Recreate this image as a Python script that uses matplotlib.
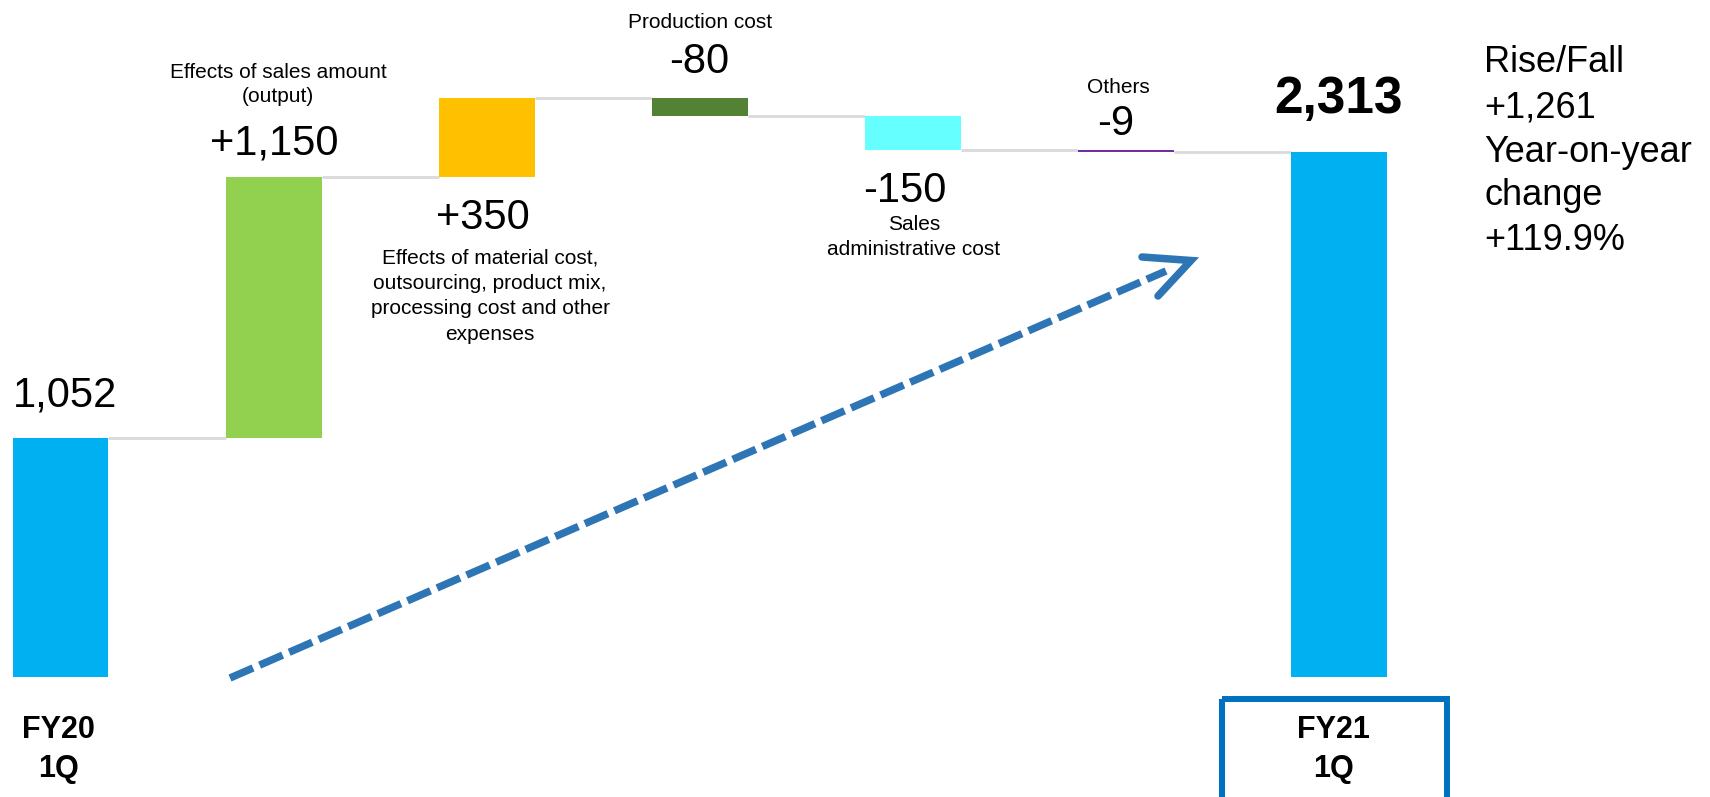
import matplotlib
matplotlib.use("Agg")
import matplotlib.pyplot as plt
import matplotlib.transforms as mtransforms
from matplotlib.lines import Line2D
from matplotlib.patches import Rectangle

plt.rcParams['font.family'] = ['Liberation Sans', 'DejaVu Sans']

# ---- data ----
categories = ["FY20\n1Q", "Effects of sales amount\n(output)",
              "Effects of material cost,\noutsourcing, product mix,\nprocessing cost and other\nexpenses",
              "Production cost", "Sales\nadministrative cost", "Others", "FY21\n1Q"]
start_value = 1052
changes = [1150, 350, -80, -150, -9]
end_value = 2313
value_labels = ["1,052", "+1,150", "+350", "-80", "-150", "-9", "2,313"]
bar_colors = ["#00B0F0", "#92D050", "#FFC000", "#548235", "#66FFFF", "#7030A0", "#00B0F0"]
side_lines = ["Rise/Fall", "+1,261", "Year-on-year", "change", "+119.9%"]

W, H = 1710, 797
fig = plt.figure(figsize=(W / 100, H / 100), dpi=100)
ax = fig.add_axes([0, 0, 1, 1])
ax.set_xlim(-0.284, 7.74)
ax.set_ylim(-529, 2982)
ax.axis("off")

# waterfall geometry from data
bottoms, heights = [0], [start_value]
running = start_value
levels = [running]
for c in changes:
    if c >= 0:
        bottoms.append(running); heights.append(c)
    else:
        bottoms.append(running + c); heights.append(-c)
    running += c
    levels.append(running)
bottoms.append(0); heights.append(end_value)

xs = list(range(len(categories)))
bw = 0.45
ax.bar(xs, heights, bottom=bottoms, width=bw, color=bar_colors, zorder=3, linewidth=0)
for i, lv in enumerate(levels):
    ax.plot([i + bw / 2, i + 1 - bw / 2], [lv, lv], color="#D9D9D9", lw=2.0,
            zorder=2, solid_capstyle="butt")

# pixel transform (origin top-left)
px = mtransforms.Affine2D().scale(1 / W, -1 / H).translate(0, 1) + fig.transFigure


def t(x, y, s, size, weight="normal", ha="center"):
    fig.text(x, y, s, transform=px, fontsize=size, fontweight=weight,
             ha=ha, va="baseline", color="black")


# value labels
t(65, 407, value_labels[0], 30)
t(274, 155, value_labels[1], 30)
t(483, 229, value_labels[2], 30)
t(699, 73, value_labels[3], 30)
t(905, 202, value_labels[4], 30)
t(1116, 135, value_labels[5], 30)
t(1338, 113, value_labels[6], 37, weight="bold")

# category descriptions
def lines_at(cx, base, step, text, size, weight="normal"):
    for k, ln in enumerate(text.split("\n")):
        t(cx, base + k * step, ln, size, weight)

lines_at(278, 78, 24.5, categories[1], 15)
lines_at(490, 264, 25.2, categories[2], 15)
lines_at(700, 28, 25, categories[3], 15)
lines_at(914, 230, 25, categories[4], 15)
lines_at(1118, 93, 25, categories[5], 15)
lines_at(58, 738, 39, categories[0], 22, weight="bold")
lines_at(1333, 738, 39, categories[6], 22, weight="bold")

# right side note
for k, ln in enumerate(side_lines):
    t(1484, [72, 117, 162, 205, 250][k], ln, 26, ha="left")

# box around FY21 label
fig.add_artist(Rectangle((1222, 699), 225, 140, transform=px, fill=False,
                         edgecolor="#0070C0", lw=4.3, clip_on=False))

# dashed trend arrow
acol = "#2E75B6"
shaft = Line2D([230, 1166], [678, 271], transform=px, color=acol, lw=5.4,
               solid_capstyle="butt", dash_capstyle="butt")
shaft.set_dashes((3.35, 0.95))
fig.add_artist(shaft)
fig.add_artist(Line2D([1142, 1191, 1158], [257, 260.5, 296], transform=px, color=acol,
                      lw=5.4, solid_joinstyle="miter", solid_capstyle="round"))

fig.savefig("out.png", dpi=100)
